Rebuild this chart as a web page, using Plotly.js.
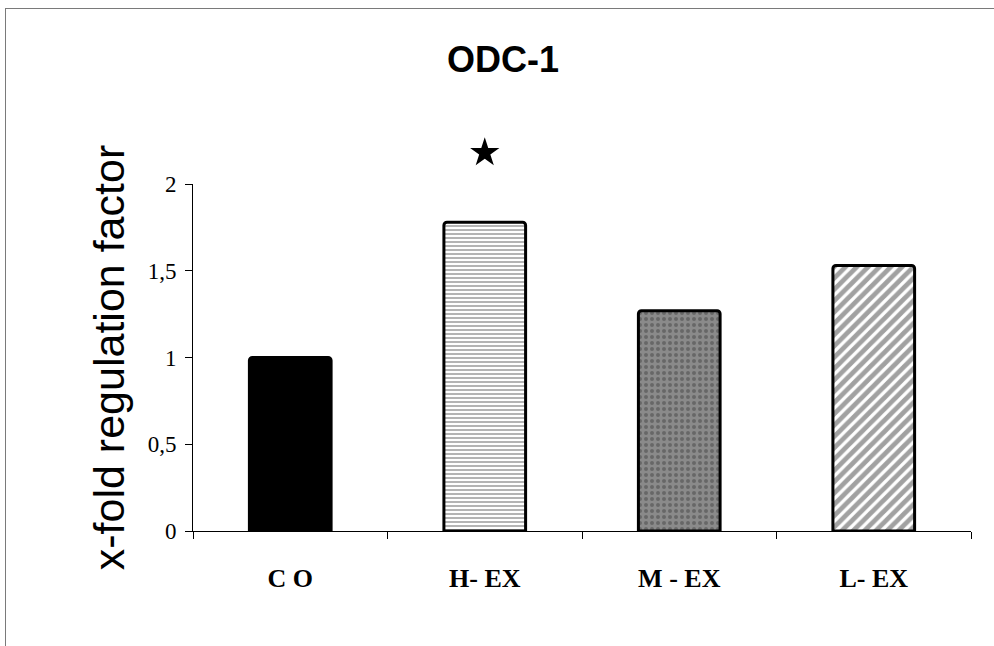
<!DOCTYPE html>
<html>
<head>
<meta charset="utf-8">
<script src="https://cdn.plot.ly/plotly-3.0.1.min.js"></script>
<style>
  html, body { margin: 0; padding: 0; background: #fff; }
  #wrap { position: relative; width: 994px; height: 646px; }
  #chart { width: 994px; height: 646px; }
  #frame { position: absolute; left: 5px; top: 8px; right: -2px; bottom: -2px;
           border-left: 1px solid #7a7a7a; border-top: 1px solid #7a7a7a; pointer-events: none; }
</style>
</head>
<body>
<div id="wrap">
  <div id="chart"></div>
  <div id="frame"></div>
</div>
<script>
// Data
const categories = ["C O", "H- EX", "M - EX", "L- EX"];
const values = [1.0, 1.78, 1.27, 1.53];
const significance = [null, 2.18, null, null];
const yTicks = [0, 0.5, 1, 1.5, 2];
const yMax = 2;

// Geometry
const W = 994, H = 646;
const mT = 120, mB = 115, mL = 193, mR = 23;
const axisPx = 347;                 // pixel height of the visible 0..2 axis
const plotPx = H - mT - mB;         // full plot area height
const domTop = axisPx / plotPx;
const y2Max = yMax * plotPx / axisPx;

// Styles
const fillColors = ["#000000", "#ffffff", "#8a8a8a", "#ffffff"];
const patternShapes = ["", "-", ".", "/"];
const patternFg = ["#000000", "#5a5a5a", "#c8c8c8", "#000000"];
const patternSize = [8, 4, 6, 8];
const patternSolidity = [0.3, 0.4, 0.35, 0.6];

const bars = {
  type: "bar",
  x: categories,
  y: values,
  xaxis: "x", yaxis: "y",
  marker: {
    color: fillColors,
    line: { color: "#000000", width: 3 },
    cornerradius: 3,
    pattern: {
      shape: patternShapes,
      fgcolor: patternFg,
      bgcolor: fillColors,
      size: patternSize,
      solidity: patternSolidity,
      fillmode: "overlay"
    }
  },
  hoverinfo: "x+y",
  showlegend: false
};

const star = {
  type: "scatter",
  mode: "markers",
  x: categories,
  y: significance,
  xaxis: "x", yaxis: "y2",
  marker: { symbol: "star", size: 22, color: "#000000" },
  showlegend: false,
  hoverinfo: "skip"
};

const layout = {
  width: W,
  height: H,
  paper_bgcolor: "#ffffff",
  plot_bgcolor: "rgba(0,0,0,0)",
  margin: { l: mL, r: mR, t: mT, b: mB, pad: 0 },
  separators: ",.",
  bargap: 0.58,
  title: {
    text: "<b>ODC-1</b>",
    font: { family: "Liberation Sans, Arial, sans-serif", size: 36, color: "#000" },
    x: 0.506, xanchor: "center",
    y: 0.908, yanchor: "middle"
  },
  xaxis: {
    type: "category",
    showline: true,
    linecolor: "#000000",
    linewidth: 1,
    ticks: "outside",
    tickson: "boundaries",
    ticklen: 7,
    tickcolor: "#000000",
    showgrid: false,
    zeroline: false,
    tickfont: { family: "Liberation Serif, Times New Roman, serif", size: 26, color: "#000", weight: "bold" },
    ticklabelstandoff: 24
  },
  yaxis: {
    domain: [0, domTop],
    range: [0, yMax],
    tickvals: yTicks,
    showline: true,
    linecolor: "#000000",
    linewidth: 1,
    ticks: "outside",
    ticklen: 7,
    tickcolor: "#000000",
    showgrid: false,
    zeroline: false,
    tickfont: { family: "Liberation Serif, Times New Roman, serif", size: 23, color: "#000" },
    ticklabelstandoff: 4,
    title: {
      text: "x-fold regulation factor",
      font: { family: "Liberation Sans, Arial, sans-serif", size: 43, color: "#000" },
      standoff: 9
    }
  },
  yaxis2: {
    domain: [0, 1],
    anchor: "x",
    range: [0, y2Max],
    visible: false,
    showgrid: false,
    zeroline: false
  }
};

Plotly.newPlot("chart", [bars, star], layout, { displayModeBar: false, staticPlot: true });
</script>
</body>
</html>
